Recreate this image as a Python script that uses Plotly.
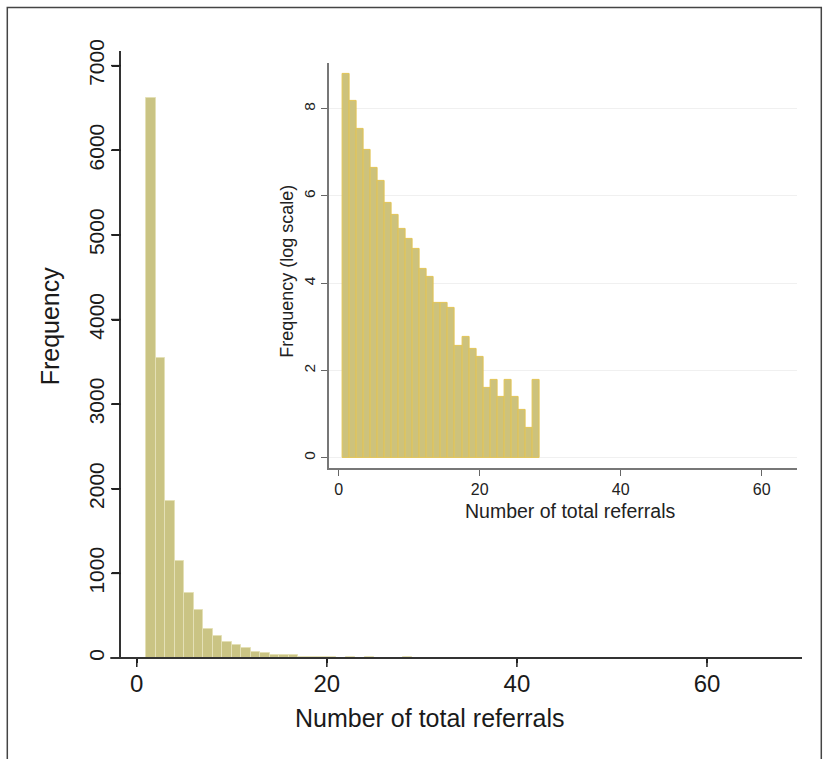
import numpy as np
import plotly.graph_objects as go

# Number of total referrals (integer values) and how many cases have each
referrals = [1, 2, 3, 4, 5, 6, 7, 8, 9, 10,
             11, 12, 13, 14, 15, 16, 17, 18, 19, 20,
             21, 22, 23, 24, 25, 26, 27, 28,
             30, 31, 33, 36, 41, 42, 43, 66]
frequency = [6620, 3550, 1860, 1150, 765, 564, 345, 262, 190, 151,
             120, 76, 63, 35, 35, 31, 13, 16, 12, 10,
             5, 6, 4, 6, 4, 3, 2, 6,
             1, 1, 1, 1, 1, 1, 1, 1]

main_xticks = [0, 20, 40, 60]
main_yticks = [0, 1000, 2000, 3000, 4000, 5000, 6000, 7000]
inset_xticks = [0, 20, 40, 60]
inset_yticks = [0, 2, 4, 6, 8]

ref_arr = np.array(referrals)
log_frequency = np.log(np.array(frequency, dtype=float))
# ln(1) = 0 gives no visible bar on the log panel
keep = log_frequency > 0

FONT = "Arial, Liberation Sans, sans-serif"
W, H = 825, 759
ML, MR, MT, MB = 120.7, 23.3, 51.4, 100.5
PW, PH = W - ML - MR, H - MT - MB


def px(x):
    return (x - ML) / PW


def py(y):
    return (H - MB - y) / PH


fig = go.Figure()

# main histogram: bins [k, k+1)
fig.add_trace(go.Bar(
    x=referrals, y=frequency, width=1, offset=0,
    marker=dict(color="#cac484", line=dict(color="#e4e0b6", width=1)),
    xaxis="x", yaxis="y", showlegend=False,
))

# inset: log of frequency, bars centred on each value
fig.add_trace(go.Bar(
    x=ref_arr[keep], y=log_frequency[keep], width=1,
    marker=dict(color="#cdc27c", line=dict(color="#e2c456", width=1)),
    xaxis="x2", yaxis="y2", showlegend=False,
))

# main axes: short built-in ticks keep the labels close; the full-length
# tick marks are drawn as shapes below
fig.update_layout(
    width=W, height=H,
    margin=dict(l=ML, r=MR, t=MT, b=MB, pad=0),
    paper_bgcolor="white", plot_bgcolor="rgba(0,0,0,0)",
    bargap=0,
    font=dict(family=FONT, color="#1a1a1a"),
    xaxis=dict(
        domain=[0, 1], range=[-1.66, 70], anchor="y",
        tickvals=main_xticks, ticks="outside", ticklen=4, tickwidth=1.5,
        tickcolor="#222", tickfont=dict(size=24, color="#1a1a1a"),
        showline=False, showgrid=False, zeroline=False,
    ),
    yaxis=dict(
        domain=[0, 1], range=[0, 7173], anchor="x",
        tickvals=main_yticks, ticks="outside", ticklen=7, tickwidth=1.5,
        tickcolor="#222", tickangle=-90, tickfont=dict(size=21, color="#1a1a1a"),
        showline=True, linecolor="#333", linewidth=2,
        showgrid=False, zeroline=False,
    ),
    xaxis2=dict(
        domain=[px(328.3), px(796.7)], range=[-1.44, 65], anchor="y2",
        tickvals=inset_xticks, ticks="outside", ticklen=6, tickwidth=1.2,
        tickcolor="#666", tickfont=dict(size=16, color="#222"),
        showline=True, linecolor="#777", linewidth=1.5,
        showgrid=False, zeroline=False,
    ),
    yaxis2=dict(
        domain=[py(468.3), py(63.3)], range=[-0.23, 9.05], anchor="x2",
        tickvals=inset_yticks, ticks="outside", ticklen=6, tickwidth=1.2,
        tickcolor="#666", tickangle=-90, tickfont=dict(size=15.5, color="#222"),
        showline=True, linecolor="#777", linewidth=1.5,
        showgrid=True, gridcolor="#f0f0f0", gridwidth=1, zeroline=False,
    ),
)

for t in main_xticks:
    fig.add_shape(type="line", xref="x", yref="paper", x0=t, x1=t,
                  y0=0, y1=-9 / PH, line=dict(color="#222", width=1.5))
for t in main_yticks:
    fig.add_shape(type="line", xref="paper", yref="y", x0=0, x1=-10 / PW,
                  y0=t, y1=t, line=dict(color="#222", width=1.5))

annotations = [
    dict(text="Number of total referrals", x=px(429.3), y=py(719),
         font=dict(size=25, color="#1a1a1a")),
    dict(text="Frequency", x=px(50), y=py(326.5), textangle=-90,
         font=dict(size=25, color="#1a1a1a")),
    dict(text="Number of total referrals", x=px(569.5), y=py(511),
         font=dict(size=19.5, color="#222")),
    dict(text="Frequency (log scale)", x=px(286), y=py(272), textangle=-90,
         font=dict(size=18, color="#222")),
]
for a in annotations:
    fig.add_annotation(xref="paper", yref="paper", showarrow=False,
                       xanchor="center", yanchor="middle", **a)

# x axis baseline (runs slightly past the y axis) and the outer frame
fig.add_shape(type="line", xref="paper", yref="paper",
              x0=px(110), x1=px(801.7), y0=0, y1=0,
              line=dict(color="#333", width=2))
fig.add_shape(type="rect", xref="paper", yref="paper",
              x0=px(7), x1=px(821), y0=py(8), y1=py(775),
              line=dict(color="#444", width=1.5), fillcolor="rgba(0,0,0,0)")

fig.write_html("out.html")
